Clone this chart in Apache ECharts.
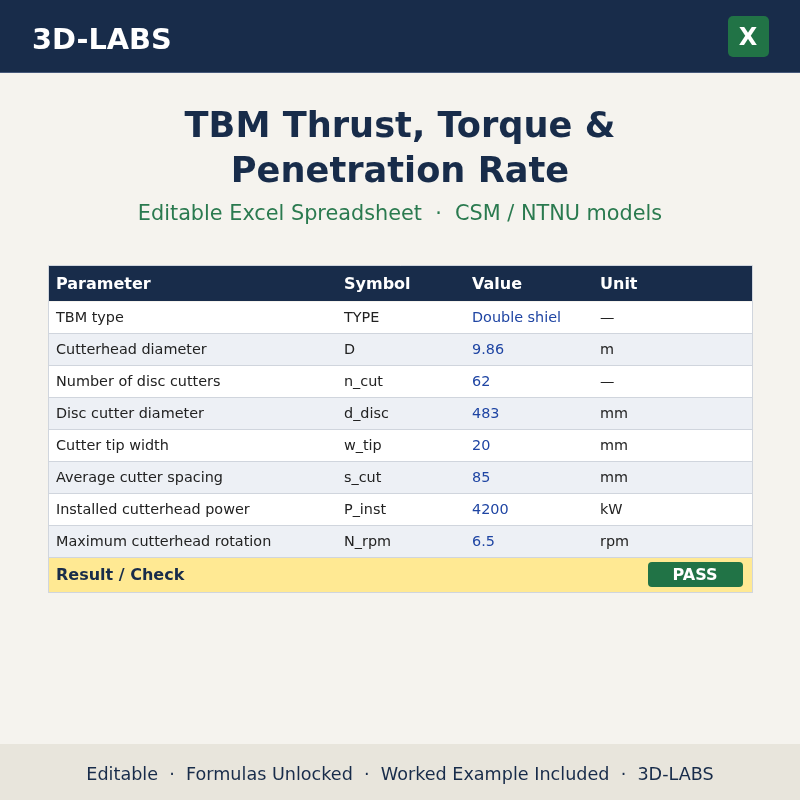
<!DOCTYPE html>
<html>
<head>
<meta charset="utf-8">
<title>TBM Thrust, Torque & Penetration Rate</title>
<script src="https://cdn.jsdelivr.net/npm/echarts@6/dist/echarts.min.js"></script>
<style>
html, body { margin: 0; padding: 0; background: #f5f3ee; }
#chart { width: 800px; height: 800px; }
</style>
</head>
<body>
<div id="chart"></div>
<script>
// table content
var columns = ['Parameter', 'Symbol', 'Value', 'Unit'];
var parameters = ['TBM type', 'Cutterhead diameter', 'Number of disc cutters', 'Disc cutter diameter',
    'Cutter tip width', 'Average cutter spacing', 'Installed cutterhead power', 'Maximum cutterhead rotation'];
var symbols = ['TYPE', 'D', 'n_cut', 'd_disc', 'w_tip', 's_cut', 'P_inst', 'N_rpm'];
var values = ['Double shiel', '9.86', '62', '483', '20', '85', '4200', '6.5'];
var units = ['\u2014', 'm', '\u2014', 'mm', 'mm', 'mm', 'kW', 'rpm'];

var NAVY = '#182c4a', GREEN = '#217346', BORDER = '#d0d5dd', FONT = '"DejaVu Sans", sans-serif';
// left edge of each column's text, counted from the table's left edge
var colX = [8, 296, 424, 552];

var rows = parameters.map(function (p, i) { return [i, p, symbols[i], values[i], units[i]]; });

function renderRow(params, api) {
    var i = api.value(0);
    var y = api.coord([0, i])[1];
    var left = params.coordSys.x;
    var w = params.coordSys.width;
    var h = api.size([704, 1])[1];
    var kids = [{
        type: 'rect',
        shape: { x: left, y: y - h / 2, width: w, height: h },
        style: { fill: i % 2 ? '#edf0f5' : '#ffffff' }
    }, {
        type: 'line',
        shape: { x1: left, y1: y + h / 2 - 0.5, x2: left + w, y2: y + h / 2 - 0.5 },
        style: { stroke: BORDER, lineWidth: 1 }
    }];
    colX.forEach(function (cx, c) {
        kids.push({
            type: 'text',
            x: api.coord([cx, i])[0],
            y: y,
            style: {
                text: String(rows[i][c + 1]),
                font: '14.4px ' + FONT,
                fill: c === 2 ? '#1f45a3' : '#222222',
                verticalAlign: 'middle',
                align: 'left'
            }
        });
    });
    return { type: 'group', children: kids };
}

var graphic = [
    { type: 'rect', shape: { x: 0, y: 0, width: 800, height: 72 }, style: { fill: NAVY } },
    { type: 'rect', shape: { x: 0, y: 72, width: 800, height: 1 }, style: { fill: '#46597a' } },
    { type: 'text', x: 32, y: 42, style: { text: '3D-LABS', font: 'bold 28.8px ' + FONT, fill: '#ffffff', verticalAlign: 'middle' } },
    { type: 'rect', shape: { x: 728, y: 16, width: 41, height: 41, r: 5 }, style: { fill: GREEN } },
    { type: 'text', x: 748, y: 39, style: { text: 'X', font: 'bold 24px ' + FONT, fill: '#ffffff', align: 'center', verticalAlign: 'middle' } },

    { type: 'text', x: 400, y: 128, style: { text: 'TBM Thrust, Torque &', font: 'bold 35.2px ' + FONT, fill: NAVY, align: 'center', verticalAlign: 'middle' } },
    { type: 'text', x: 400, y: 173, style: { text: 'Penetration Rate', font: 'bold 35.2px ' + FONT, fill: NAVY, align: 'center', verticalAlign: 'middle' } },
    { type: 'text', x: 400, y: 215, style: { text: 'Editable Excel Spreadsheet  \u00b7  CSM / NTNU models', font: '20.8px ' + FONT, fill: '#2a7a4f', align: 'center', verticalAlign: 'middle' } },

    // table header
    { type: 'rect', shape: { x: 48, y: 266, width: 704, height: 35 }, style: { fill: NAVY } },

    // result row
    { type: 'rect', shape: { x: 48.5, y: 557.5, width: 704, height: 35 }, style: { fill: '#ffe993', stroke: BORDER, lineWidth: 1 } },
    { type: 'text', x: 56, y: 576, style: { text: 'Result / Check', font: 'bold 16px ' + FONT, fill: NAVY, verticalAlign: 'middle' } },
    { type: 'rect', shape: { x: 648, y: 562, width: 95, height: 25, r: 4 }, style: { fill: GREEN } },
    { type: 'text', x: 695, y: 576, style: { text: 'PASS', font: 'bold 16px ' + FONT, fill: '#ffffff', align: 'center', verticalAlign: 'middle' } },

    // table outline
    { type: 'rect', z: 20, shape: { x: 48.5, y: 265.5, width: 704, height: 327 }, style: { fill: 'none', stroke: BORDER, lineWidth: 1 } },

    // footer
    { type: 'rect', shape: { x: 0, y: 744, width: 800, height: 56 }, style: { fill: '#e8e5dc' } },
    { type: 'text', x: 400, y: 775, style: { text: 'Editable  \u00b7  Formulas Unlocked  \u00b7  Worked Example Included  \u00b7  3D-LABS', font: '17.6px ' + FONT, fill: NAVY, align: 'center', verticalAlign: 'middle' } }
];

columns.forEach(function (c, i) {
    graphic.push({ type: 'text', x: 48 + colX[i], y: 285, z: 10, style: { text: c, font: 'bold 16px ' + FONT, fill: '#ffffff', verticalAlign: 'middle' } });
});

var chart = echarts.init(document.getElementById('chart'), null, { renderer: 'canvas' });
chart.setOption({
    animation: false,
    backgroundColor: '#f5f3ee',
    grid: { left: 48, top: 302, width: 704, height: 256 },
    xAxis: { type: 'value', min: 0, max: 704, show: false },
    yAxis: { type: 'category', inverse: true, data: parameters, show: false },
    graphic: graphic,
    series: [{
        type: 'custom',
        coordinateSystem: 'cartesian2d',
        clip: false,
        encode: { x: -1, y: 0 },
        data: rows,
        renderItem: renderRow
    }]
});
</script>
</body>
</html>
